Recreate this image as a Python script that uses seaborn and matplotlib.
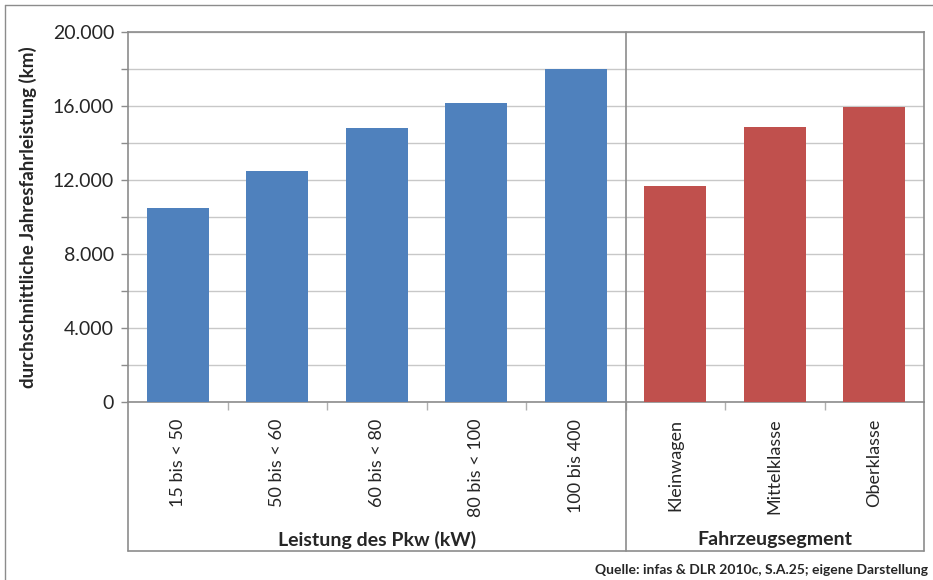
import matplotlib
matplotlib.use("Agg")
import matplotlib.pyplot as plt
import matplotlib.transforms as mtransforms
from matplotlib.lines import Line2D
from matplotlib.ticker import FuncFormatter, MultipleLocator
import seaborn as sns
import pandas as pd

categories = ["15 bis < 50", "50 bis < 60", "60 bis < 80", "80 bis < 100", "100 bis 400",
              "Kleinwagen", "Mittelklasse", "Oberklasse"]
values = [10500, 12500, 14800, 16150, 18000, 11700, 14850, 15950]
groups = ["Leistung des Pkw (kW)"] * 5 + ["Fahrzeugsegment"] * 3
group_names = ["Leistung des Pkw (kW)", "Fahrzeugsegment"]
group_colors = ["#4F81BD", "#C0504D"]
y_label = "durchschnittliche Jahresfahrleistung (km)"
source = "Quelle: infas & DLR 2010c, S.A.25; eigene Darstellung"

sns.set_style("white")
plt.rcParams["font.family"] = ["Lato", "DejaVu Sans"]

df = pd.DataFrame({"cat": categories, "val": values, "grp": groups})

fig = plt.figure(figsize=(9.33, 5.8), dpi=100)
ax = fig.add_axes([128/933, 1-402/580, 796/933, 370/580])

sns.barplot(data=df, x="cat", y="val", hue="grp", hue_order=group_names,
            palette=group_colors, dodge=False, width=0.62, ax=ax,
            legend=False, saturation=1, zorder=3, linewidth=0)

ax.set_ylim(0, 20000)
ax.set_xlim(-0.5, len(categories) - 0.5)
ax.yaxis.set_major_locator(MultipleLocator(4000))
ax.yaxis.set_minor_locator(MultipleLocator(2000))
ax.yaxis.set_major_formatter(FuncFormatter(lambda v, p: f"{int(v):,}".replace(",", ".")))
ax.grid(True, which="both", axis="y", color="#C8C8C8", linewidth=1, zorder=0)
ax.set_axisbelow(True)

spine_c = "#8C8C8C"
for s in ["left", "right", "top", "bottom"]:
    ax.spines[s].set_color(spine_c)
    ax.spines[s].set_linewidth(1.2)

ax.tick_params(axis="y", which="both", direction="out", length=5, width=1,
               color=spine_c, labelsize=14, pad=5, left=True)
ax.tick_params(axis="x", which="major", length=0, pad=12, labelsize=13)
ax.set_xticks(range(len(categories)))
ax.set_xticklabels(categories, rotation=90, va="top", ha="center")
ax.set_xticks([i + 0.5 for i in range(len(categories) - 1)], minor=True)
ax.tick_params(axis="x", which="minor", direction="out", length=6, width=1,
               color="#B0B0B0", bottom=True)

ax.set_xlabel("")
ax.set_ylabel(y_label, fontsize=13.5, fontweight="bold")
ax.yaxis.set_label_coords((37 - 128) / 796, 0.5)

# group boxes
n1 = groups.count(group_names[0])
yb = (402 - 551) / 370
trans = mtransforms.blended_transform_factory(ax.transData, ax.transAxes)
lines = [
    Line2D([-0.5, -0.5], [yb, 0], transform=trans),
    Line2D([len(categories) - 0.5, len(categories) - 0.5], [yb, 0], transform=trans),
    Line2D([-0.5, len(categories) - 0.5], [yb, yb], transform=trans),
    Line2D([n1 - 0.5, n1 - 0.5], [yb, 1], transform=trans),
]
for ln in lines:
    ln.set_color(spine_c)
    ln.set_linewidth(1.2)
    ln.set_clip_on(False)
    ln.set_zorder(5)
    ax.add_line(ln)

yg = (402 - 540) / 370
ax.text((n1 - 1) / 2, yg, group_names[0], transform=trans, ha="center", va="center",
        fontsize=14, fontweight="bold")
ax.text(n1 + (len(categories) - n1 - 1) / 2, yg, group_names[1], transform=trans,
        ha="center", va="center", fontsize=14, fontweight="bold")

fig.text(928/933, (580 - 570)/580, source, ha="right", va="center",
         fontsize=10, fontweight="bold")

# outer frame (top and left edges)
fig.add_artist(Line2D([5/933, 1], [1 - 5/580, 1 - 5/580], color="#8C8C8C",
                      linewidth=1, transform=fig.transFigure))
fig.add_artist(Line2D([5/933, 5/933], [0, 1 - 5/580], color="#8C8C8C",
                      linewidth=1, transform=fig.transFigure))

fig.savefig("out.png", dpi=100)
